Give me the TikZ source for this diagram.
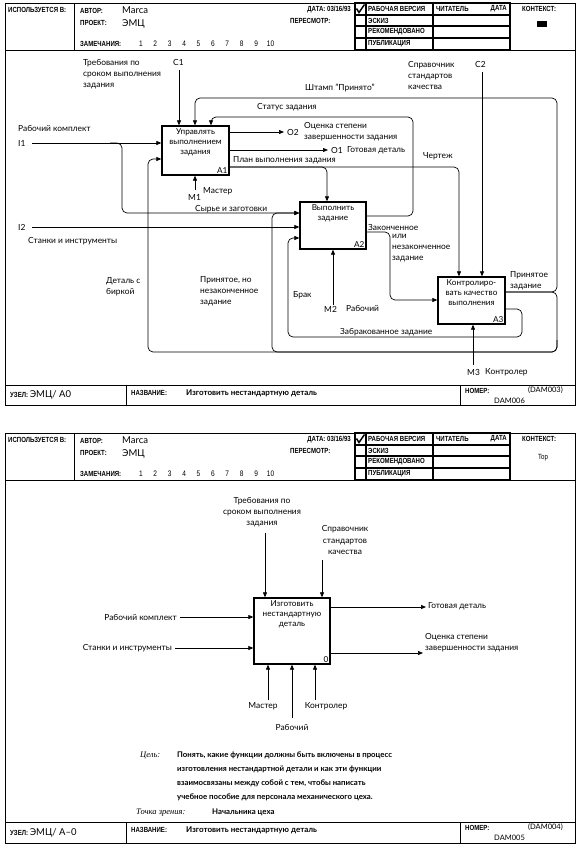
\documentclass[tikz,border=0pt]{standalone}
\usepackage{fontspec}
\setmainfont{Lato}
\newfontfamily\formfont[FakeStretch=0.82]{Liberation Sans}
\newfontfamily\notefont{Liberation Serif}
\usetikzlibrary{arrows.meta}

\newcommand{\lblfont}{\fontsize{8.4}{11.2}\selectfont}
\newcommand{\boxfont}{\fontsize{8.2}{10.2}\selectfont}
\newcommand{\formsize}{\formfont\bfseries\fontsize{7.4}{8}\selectfont}

\tikzset{
    func/.style = {draw, line width=1.3pt, rectangle, inner sep=0pt},
    func-name/.style = {below=3pt, align=center, font=\boxfont, inner sep=0pt},
    func-num/.style = {anchor=south east, font=\boxfont, inner sep=2pt},
    lbl/.style = {anchor=west, align=left, font=\lblfont, inner sep=0pt},
    flow/.style = {line width=0.7pt, rounded corners=5pt, -{Triangle[length=5pt,width=4pt]}},
    form/.style = {line width=0.8pt},
    form-text/.style = {anchor=west, font=\formsize, inner sep=0pt},
    form-big/.style = {anchor=west, font=\fontsize{9.5}{10}\selectfont, inner sep=0pt},
}

% IDEF0 form: #1 footer top, #2 bottom, #3 node, #4 context, #5 c-number, #6 number
\newcommand{\idefform}[6]{
    \draw[form] (5,3) rectangle (575,#2);
    \draw[form] (5,50) -- (575,50);
    \draw[form] (74,3) -- (74,50);
    \draw[line width=1.1pt] (355,3) rectangle (510,50);
    \foreach \y in {15,26,38}
        \draw[line width=1.1pt] (355,\y) -- (510,\y);
    \draw[line width=1.1pt] (366,3) -- (366,50) (433,3) -- (433,50);
    \draw[line width=1.5pt] (356.5,8.5) -- (359,12.5) -- (364.5,4.5);
    \node[form-text] (used) at (8,10) {ИСПОЛЬЗУЕТСЯ В:};
    \node[form-text] (author) at (80,11) {АВТОР:};
    \node[form-big] (author-val) at (122,10) {Marca};
    \node[form-text] (project) at (80,23) {ПРОЕКТ:};
    \node[form-big] (project-val) at (122,24) {ЭМЦ};
    \node[form-text] (notes) at (80,44) {ЗАМЕЧАНИЯ:};
    \foreach \n in {1,...,10}
        \node[form-text, anchor=center, font=\formfont\fontsize{8}{8}\selectfont] (note-\n) at ({126.5+\n*14.4},44) {\n};
    \node[form-text, anchor=east] (date) at (351,10) {ДАТА: 03/16/93};
    \node[form-text] (rev) at (290,21) {ПЕРЕСМОТР:};
    \node[form-text] (st-1) at (368,9) {РАБОЧАЯ ВЕРСИЯ};
    \node[form-text] (st-2) at (368,20.5) {ЭСКИЗ};
    \node[form-text] (st-3) at (368,32) {РЕКОМЕНДОВАНО};
    \node[form-text] (st-4) at (368,44) {ПУБЛИКАЦИЯ};
    \node[form-text] (reader) at (436,9) {ЧИТАТЕЛЬ};
    \node[form-text, anchor=east] (reader-date) at (507,9) {ДАТА};
    \node[form-text] (context) at (522,9) {КОНТЕКСТ:};
    #4
    \draw[form] (5,#1) -- (575,#1);
    \draw[form] (126,#1) -- (126,#2) (460,#1) -- (460,#2);
    \node[form-text] (node-lbl) at (10,{(#1+#2)/2}) {УЗЕЛ: {\normalfont\fontsize{9.5}{10}\selectfont ЭМЦ/ #3}};
    \node[form-text] (title-lbl) at (131,{#1+8}) {НАЗВАНИЕ:};
    \node[form-big, font=\bfseries\fontsize{8}{9}\selectfont] (title) at (186,{#1+8.5}) {Изготовить нестандартную деталь};
    \node[form-text] (num-lbl) at (465,{#1+6}) {НОМЕР:};
    \node[form-big, anchor=east, font=\fontsize{7.5}{8}\selectfont] (c-num) at (563,{#1+5}) {#5};
    \node[form-big, font=\fontsize{7.5}{8}\selectfont] (num) at (494,{#1+15.5}) {#6};
}

\begin{document}
\begin{tikzpicture}[x=1pt, y=-1pt]
\useasboundingbox (0,0) rectangle (581,849);

% ---------- sheet A0
\idefform{385}{405}{A0}{\fill (537,21) rectangle (547,27);}{(DAM003)}{DAM006}

\node[func, minimum width=67pt, minimum height=49pt] (A1) at (195.5,150.5) {};
\node[func-name] (A1-name) at (A1.north) {Управлять\\выполнением\\задания};
\node[func-num] (A1-num) at (A1.south east) {A1};
\node[func, minimum width=66pt, minimum height=47pt] (A2) at (333,225.5) {};
\node[func-name] (A2-name) at (A2.north) {Выполнить\\задание};
\node[func-num] (A2-num) at (A2.south east) {A2};
\node[func, minimum width=67pt, minimum height=47pt] (A3) at (471.5,300.5) {};
\node[func-name] (A3-name) at (A3.north) {Контролиро-\\вать качество\\выполнения};
\node[func-num] (A3-num) at (A3.south east) {A3};

\node[lbl] (req) at (83,74) {Требования по\\сроком выполнения\\задания};
\node[lbl] (C1) at (173,62) {C1};
\node[lbl] (ref) at (408,75.5) {Справочник\\стандартов\\качества};
\node[lbl] (C2) at (475,64) {C2};
\node[lbl] (work) at (18,128) {Рабочий комплект};
\node[lbl] (I1) at (18,143) {I1};
\node[lbl] (I2) at (18,227) {I2};
\node[lbl] (tools) at (28,241) {Станки и инструменты};
\node[lbl] (raw) at (195,209) {Сырье и заготовки};
\node[lbl] (status) at (257,107) {Статус задания};
\node[lbl] (stamp) at (305,88) {Штамп "Принято"};
\node[lbl] (O2) at (287,132) {O2};
\node[lbl] (eval) at (304,131.5) {Оценка степени\\завершенности задания};
\node[lbl] (O1) at (331,150) {O1};
\node[lbl] (done) at (347,150) {Готовая деталь};
\node[lbl] (plan) at (233,160) {План выполнения задания};
\node[lbl] (drawing) at (423,156) {Чертеж};
\node[lbl] (fin) at (368,227) {Законченное};
\node[lbl] (fin-2) at (392,248) {или\\незаконченное\\задание};
\node[lbl] (accepted) at (510,281) {Принятое\\задание};
\node[lbl] (rejected) at (340,332) {Забракованное задание};
\node[lbl] (scrap) at (293,295) {Брак};
\node[lbl] (tag) at (106,286.5) {Деталь с\\биркой};
\node[lbl] (unfinished) at (200,291) {Принятое, но\\незаконченное\\задание};
\node[lbl] (M1) at (188,197) {M1};
\node[lbl] (master) at (203,191) {Мастер};
\node[lbl] (M2) at (324,309) {M2};
\node[lbl] (worker) at (346,308) {Рабочий};
\node[lbl] (M3) at (467,372) {M3};
\node[lbl] (inspector) at (485,372) {Контролер};

\coordinate (C1-in) at (179,70);
\coordinate (C2-in) at (482,72);
\coordinate (I1-in) at (32,143);
\coordinate (I2-in) at (32,227);
\coordinate (M1-in) at (195,190);
\coordinate (M2-in) at (333,305);
\coordinate (M3-in) at (473,365);
\coordinate (O1-out) at (328,150);
\coordinate (O2-out) at (284,132);

% controls
\draw[flow] (C1-in) -- (C1-in |- A1.north);
\draw[flow] (C2-in) -- (C2-in |- A3.north);
\draw[flow] (A3.east |- 0,292) -- (557,292) -- (557,98) -- (195,98) -- (A1.north -| 195,0);
\draw[flow] (A2.east |- 0,216) -- (413,216) -- (413,117) -- (211,117) -- (A1.north -| 211,0);
\draw[flow] (A1.east |- 0,167) -- (327,167) -- (A2.north -| 327,0);
\draw[flow] (A1.east |- 0,167) -- (459,167) -- (A3.north -| 459,0);
% inputs
\draw[flow] (I1-in) -- (A1.west |- I1-in);
\draw[flow] (110,143) -- (122,143) -- (122,213) -- (A2.west |- 0,213);
\draw[flow] (I2-in) -- (A2.west |- I2-in);
\draw[flow] (A3.east |- 0,292) -- (557,292) -- (557,352) -- (148,352) -- (148,159) -- (A1.west |- 0,159);
\draw[flow] (557,340) -- (557,352) -- (272,352) -- (272,213) -- (A2.west |- 0,213);
\draw[flow] (A3.east |- 0,309) -- (522,309) -- (522,337) -- (288,337) -- (288,238) -- (A2.west |- 0,238);
\draw[flow] (A2.east |- 0,232) -- (390,232) -- (390,300) -- (A3.west |- 0,300);
% outputs
\draw[flow] (A1.east |- O2-out) -- (O2-out);
\draw[flow] (A1.east |- O1-out) -- (O1-out);
% mechanisms
\draw[flow] (M1-in) -- (M1-in |- A1.south);
\draw[flow] (M2-in) -- (M2-in |- A2.south);
\draw[flow] (M3-in) -- (M3-in |- A3.south);

% ---------- sheet A-0
\begin{scope}[shift={(0,430)}]
\idefform{392}{413}{A--0}{\node[form-text, anchor=center, font=\formfont\fontsize{7.5}{8}\selectfont] (ctx-top) at (543,28) {Top};}{(DAM004)}{DAM005}
\end{scope}

\node[func, minimum width=76pt, minimum height=66pt] (A0) at (292,631) {};
\node[func-name] (A0-name) at (A0.north) {Изготовить\\нестандартную\\деталь};
\node[func-num] (A0-num) at (A0.south east) {0};

\node[lbl, anchor=center, align=center] (req-0) at (262,512) {Требования по\\сроком выполнения\\задания};
\node[lbl, anchor=center, align=center] (ref-0) at (345,540) {Справочник\\стандартов\\качества};
\node[lbl, anchor=east] (work-0) at (177,617) {Рабочий комплект};
\node[lbl, anchor=east] (tools-0) at (172,648) {Станки и инструменты};
\node[lbl] (done-0) at (428,606) {Готовая деталь};
\node[lbl] (eval-0) at (425,643) {Оценка степени\\завершенности задания};
\node[lbl, anchor=center] (master-0) at (263,706) {Мастер};
\node[lbl, anchor=center] (inspector-0) at (326,706) {Контролер};
\node[lbl, anchor=center] (worker-0) at (292,727) {Рабочий};

\coordinate (req-0-in) at (265,533);
\coordinate (ref-0-in) at (322,560);
\coordinate (work-0-in) at (180,617);
\coordinate (tools-0-in) at (175,648);
\coordinate (done-0-out) at (426,607);
\coordinate (eval-0-out) at (423,653);
\coordinate (master-0-in) at (268,700);
\coordinate (worker-0-in) at (292,718);
\coordinate (inspector-0-in) at (315,700);

\draw[flow] (req-0-in) -- (req-0-in |- A0.north);
\draw[flow] (ref-0-in) -- (ref-0-in |- A0.north);
\draw[flow] (work-0-in) -- (A0.west |- work-0-in);
\draw[flow] (tools-0-in) -- (A0.west |- tools-0-in);
\draw[flow] (A0.east |- done-0-out) -- (done-0-out);
\draw[flow] (A0.east |- eval-0-out) -- (eval-0-out);
\draw[flow] (master-0-in) -- (master-0-in |- A0.south);
\draw[flow] (worker-0-in) -- (worker-0-in |- A0.south);
\draw[flow] (inspector-0-in) -- (inspector-0-in |- A0.south);

\node[anchor=north west, inner sep=0pt, font=\notefont\itshape\fontsize{8.5}{10}\selectfont] (goal-lbl) at (140,752) {Цель:};
\node[anchor=north west, inner sep=0pt, align=left, font=\bfseries\fontsize{7.8}{14}\selectfont] (goal) at (177,752) {Понять, какие функции должны быть включены в процесс\\изготовления нестандартной детали и как эти функции\\взаимосвязаны между собой с тем, чтобы написать\\учебное пособие для персонала механического цеха.};
\node[anchor=base west, inner sep=0pt, font=\notefont\itshape\fontsize{8.5}{10}\selectfont] (view-lbl) at (136,814) {Точка зрения:};
\node[anchor=base west, inner sep=0pt, font=\bfseries\fontsize{7.8}{10}\selectfont] (view) at (212,814) {Начальника цеха};
\end{tikzpicture}
\end{document}
